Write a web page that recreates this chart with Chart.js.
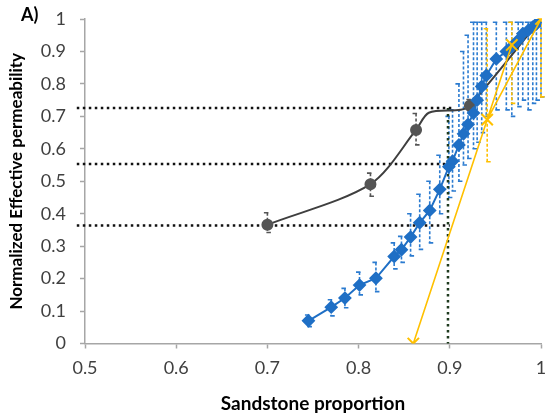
<!DOCTYPE html>
<html>
<head>
<meta charset="utf-8">
<script src="https://cdn.jsdelivr.net/npm/chart.js@4/dist/chart.umd.min.js"></script>
<style>
html,body{margin:0;padding:0;background:#fff;}
#wrap{position:relative;width:551px;height:415px;}
#panel{position:absolute;left:21px;top:3px;font-family:Lato,sans-serif;font-weight:bold;font-size:18px;color:#000;}
</style>
</head>
<body>
<div id="wrap">
<canvas id="c" width="551" height="415"></canvas>
<div id="panel">A)</div>
</div>
<script>
// ---- data ----
const xTickValues = [0.5, 0.6, 0.7, 0.8, 0.9, 1];
const xTickLabels = ['0.5', '0.6', '0.7', '0.8', '0.9', '1'];
const yTickValues = [0, 0.1, 0.2, 0.3, 0.4, 0.5, 0.6, 0.7, 0.8, 0.9, 1];
const yTickLabels = ['0', '0.1', '0.2', '0.3', '0.4', '0.5', '0.6', '0.7', '0.8', '0.9', '1'];

// gray series (smoothed line with circles)
const grayX   = [0.700, 0.813, 0.863, 0.877, 0.912, 0.922, 1.000];
const grayY   = [0.366, 0.491, 0.658, 0.711, 0.720, 0.733, 1.000];
const grayMark= [1, 1, 1, 0, 0, 1, 1];
const grayLo  = [0.342, 0.454, 0.612, null, null, 0.712, null];
const grayHi  = [0.403, 0.525, 0.709, null, null, 0.752, null];

// blue series (diamonds)
const blueX  = [0.745, 0.770, 0.785, 0.801, 0.819, 0.839, 0.847, 0.857, 0.867, 0.878, 0.889, 0.899, 0.903, 0.910, 0.915, 0.920, 0.926, 0.930, 0.935, 0.940, 0.951, 0.962, 0.968, 0.975, 0.980, 0.986, 0.991, 0.995, 1.000];
const blueY  = [0.070, 0.112, 0.140, 0.180, 0.201, 0.268, 0.289, 0.328, 0.372, 0.410, 0.475, 0.545, 0.562, 0.612, 0.646, 0.675, 0.710, 0.750, 0.792, 0.826, 0.877, 0.900, 0.915, 0.935, 0.955, 0.965, 0.975, 0.985, 0.995];
const blueLo = [0.052, 0.085, 0.110, 0.150, 0.160, 0.230, 0.250, 0.270, 0.290, 0.310, 0.400, 0.450, 0.470, 0.500, 0.550, 0.570, 0.600, 0.620, 0.650, 0.700, 0.720, 0.720, 0.700, 0.730, 0.750, 0.720, 0.740, 0.750, 0.760];
const blueHi = [0.088, 0.135, 0.170, 0.220, 0.250, 0.310, 0.330, 0.400, 0.460, 0.500, 0.580, 0.700, 0.720, 0.800, 0.900, 0.950, 0.990, 0.990, 0.990, 0.990, 0.990, 0.990, 0.990, 0.990, 0.990, 0.990, 0.990, 0.990, 0.990];

// yellow series (crosses)
const yellowX  = [0.860, 0.968, 0.941, 1.000];
const yellowY  = [0.000, 0.920, 0.690, 1.000];
const yellowLo = [null, 0.740, 0.560, 0.760];
const yellowHi = [null, 0.990, 0.970, 1.000];

// dotted reference lines
const refLevels = [0.726, 0.553, 0.364];
const refEndX   = [0.902, 0.898, 0.900];
const refStartX = 0.491;
const cutoffX   = 0.898;

// ---- build ----
const pts = (xs, ys) => xs.map((v, i) => ({x: v, y: ys[i]}));
const BLUE = '#1f6fc5', GRAY = '#555555', GOLD = '#FFC000';

const refSets = refLevels.map((lv, i) => ({
  data: [{x: refStartX, y: lv}, {x: refEndX[i], y: lv}],
  showLine: true, borderColor: '#111', borderWidth: 2.5, borderDash: [2.5, 3.5],
  pointRadius: 0, clip: false, order: 10
}));
refSets.push({
  data: [{x: cutoffX, y: refLevels[0]}, {x: cutoffX, y: 0}],
  showLine: true, borderColor: '#1e3a1e', borderWidth: 2.5, borderDash: [2.5, 3.5],
  pointRadius: 0, clip: false, order: 10
});

const errGroups = [
  {xs: blueX, lo: blueLo, hi: blueHi, color: '#2b7bd0'},
  {xs: grayX, lo: grayLo, hi: grayHi, color: '#555555'},
  {xs: yellowX, lo: yellowLo, hi: yellowHi, color: GOLD}
];

const errorBarPlugin = {
  id: 'errorBars',
  beforeDatasetsDraw(chart) {
    const {ctx, scales: {x, y}} = chart;
    ctx.save();
    ctx.lineWidth = 1.6;
    errGroups.forEach(g => {
      ctx.strokeStyle = g.color;
      g.xs.forEach((xv, i) => {
        if (g.lo[i] == null) return;
        const px = x.getPixelForValue(xv);
        const y1 = y.getPixelForValue(g.hi[i]);
        const y2 = y.getPixelForValue(g.lo[i]);
        ctx.setLineDash([3, 2]);
        ctx.beginPath(); ctx.moveTo(px, y1); ctx.lineTo(px, y2); ctx.stroke();
        ctx.setLineDash([]);
        ctx.beginPath();
        ctx.moveTo(px - 3.5, y1); ctx.lineTo(px + 1, y1);
        ctx.moveTo(px - 1, y2); ctx.lineTo(px + 3.5, y2);
        ctx.stroke();
      });
    });
    ctx.restore();
  }
};

new Chart(document.getElementById('c'), {
  type: 'scatter',
  data: {
    datasets: [
      {
        data: pts(yellowX, yellowY), showLine: true, borderColor: GOLD, borderWidth: 1.6,
        pointStyle: 'crossRot', pointRadius: 8, pointBorderWidth: 2, pointBorderColor: GOLD,
        pointBackgroundColor: GOLD, order: 1
      },
      {
        data: pts(blueX, blueY), showLine: true, borderColor: BLUE, borderWidth: 2,
        pointStyle: 'rectRot', pointRadius: 5.5, pointBackgroundColor: BLUE, pointBorderColor: BLUE,
        order: 2
      },
      {
        data: pts(grayX, grayY), showLine: true, borderColor: '#3f3f3f', borderWidth: 2,
        tension: 0.3,
        pointStyle: 'circle', pointRadius: grayMark.map(m => m ? 5 : 0),
        pointBackgroundColor: GRAY, pointBorderColor: GRAY, order: 3
      },
      ...refSets
    ]
  },
  options: {
    responsive: false,
    animation: false,
    events: [],
    layout: {padding: {top: 19, right: 4, bottom: 0, left: 0}},
    plugins: {legend: {display: false}, tooltip: {enabled: false}},
    scales: {
      x: {
        type: 'linear', min: 0.5, max: 1,
        afterBuildTicks: s => { s.ticks = xTickValues.map(v => ({value: v})); },
        afterFit: s => { s.height = 71.5; s.paddingLeft = 0; s.paddingRight = 0; },
        grid: {drawOnChartArea: false, drawTicks: true, tickLength: 5, tickColor: '#a6a6a6', tickWidth: 1.5},
        border: {color: '#a6a6a6', width: 1.5},
        ticks: {color: '#404040', font: {family: 'Lato', size: 18}, padding: 9, maxRotation: 0,
                callback: (v, i) => xTickLabels[i]},
        title: {display: true, text: 'Sandstone proportion', color: '#000',
                font: {family: 'Lato', size: 19, weight: 'bold'}, padding: {top: 0, bottom: 0}}
      },
      y: {
        type: 'linear', min: 0, max: 1,
        afterBuildTicks: s => { s.ticks = yTickValues.map(v => ({value: v})); },
        afterFit: s => { s.width = 85; s.paddingTop = 0; s.paddingBottom = 0; },
        grid: {drawOnChartArea: false, drawTicks: true, tickLength: 5, tickColor: '#a6a6a6', tickWidth: 1.5},
        border: {color: '#a6a6a6', width: 1.5},
        ticks: {color: '#404040', font: {family: 'Lato', size: 18}, padding: 14,
                callback: (v, i) => yTickLabels[i]},
        title: {display: true, text: 'Normalized Effective permeability', color: '#000',
                font: {family: 'Lato', size: 17, weight: 'bold'}, padding: {top: 6, bottom: 0}}
      }
    }
  },
  plugins: [errorBarPlugin]
});
</script>
</body>
</html>
